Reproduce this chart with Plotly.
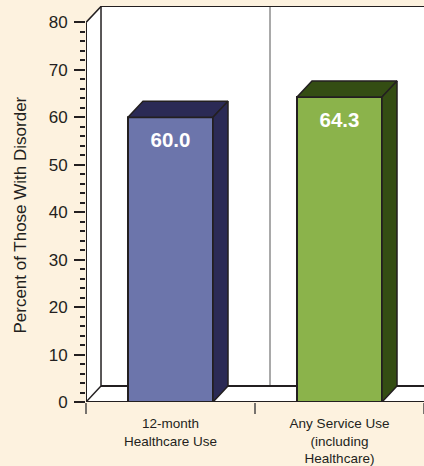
import plotly.graph_objects as go

categories = ["12-month<br>Healthcare Use", "Any Service Use<br>(including<br>Healthcare)"]
values = [60.0, 64.3]
value_labels = ["60.0", "64.3"]
front_colors = ["#6C75AB", "#8BB34B"]
dark_colors = ["#2B2A55", "#344D13"]
y_title = "Percent of Those With Disorder"

BG = "#FDF2DF"
INK = "#231F20"
DX, DY = 0.0888, 3.37      # 3-D depth in axis units
W = 0.503                  # bar width
TOP = 83.47                # axis top
XMAX = 2
pos = [i + 0.5 for i in range(len(values))]

fig = go.Figure()

# bars
fig.add_trace(go.Bar(
    x=pos, y=values, width=W,
    marker=dict(color=front_colors, line=dict(color=INK, width=2)),
    hoverinfo="skip", showlegend=False,
))

# top and side faces
for p, v, c in zip(pos, values, dark_colors):
    l, r = p - W / 2, p + W / 2
    fig.add_trace(go.Scatter(
        x=[l, l + DX, r + DX, r, l], y=[v, v + DY, v + DY, v, v],
        mode="lines", fill="toself", fillcolor=c,
        line=dict(color=INK, width=1.5), hoverinfo="skip", showlegend=False, cliponaxis=False,
    ))
    fig.add_trace(go.Scatter(
        x=[r, r + DX, r + DX, r, r], y=[v, v + DY, DY, 0, v],
        mode="lines", fill="toself", fillcolor=c,
        line=dict(color=INK, width=1.5), hoverinfo="skip", showlegend=False, cliponaxis=False,
    ))

# value labels
fig.add_trace(go.Scatter(
    x=pos, y=[v - 5.2 for v in values], text=value_labels, mode="text",
    textfont=dict(family="Liberation Sans", size=20.5, color="white", weight="bold"),
    hoverinfo="skip", showlegend=False,
))

# y axis line
fig.add_trace(go.Scatter(
    x=[0, 0], y=[0, 80], mode="lines", line=dict(color=INK, width=2),
    hoverinfo="skip", showlegend=False, cliponaxis=False,
))

wall = dict(layer="below", xref="x", yref="y")
shapes = [
    dict(type="path", path=f"M {DX},{DY} H {XMAX} V {TOP} H {DX} Z", fillcolor="white", line=dict(width=0), **wall),
    dict(type="path", path=f"M 0,0 L {DX},{DY} V {TOP} L 0,80 Z", fillcolor="white", line=dict(width=0), **wall),
    dict(type="path", path=f"M 0,0 H {XMAX} V {DY} H {DX} Z", fillcolor="white", line=dict(width=0), **wall),
    dict(type="line", x0=1 + DX, x1=1 + DX, y0=DY, y1=TOP, line=dict(color="#555555", width=1), **wall),
    dict(type="line", x0=DX, x1=XMAX, y0=DY, y1=DY, line=dict(color=INK, width=2), **wall),
    dict(type="line", x0=DX, x1=XMAX, y0=TOP, y1=TOP, line=dict(color=INK, width=2), **wall),
    dict(type="line", x0=DX, x1=DX, y0=DY, y1=TOP, line=dict(color=INK, width=1.5), **wall),
    dict(type="line", x0=0, x1=DX, y0=0, y1=DY, line=dict(color=INK, width=1.5), **wall),
    dict(type="line", x0=0, x1=DX, y0=80, y1=83.37, line=dict(color=INK, width=1.5), **wall),
    dict(type="line", x0=0, x1=XMAX, y0=0, y1=0, line=dict(color=INK, width=2), **wall),
]

fig.update_layout(
    width=424, height=466,
    margin=dict(l=86, r=0, t=6, b=64, autoexpand=False),
    paper_bgcolor=BG, plot_bgcolor=BG,
    font=dict(family="Liberation Sans", color=INK),
    showlegend=False, shapes=shapes,
    annotations=[dict(
        text=y_title, textangle=-90, showarrow=False,
        xref="paper", yref="paper", x=-0.195, y=0.471, xanchor="center", yanchor="middle",
        font=dict(size=17, color=INK),
    )],
    xaxis=dict(
        range=[0, XMAX], tickmode="array", tickvals=pos, ticktext=categories,
        ticks="outside", ticklen=9, tickcolor="rgba(0,0,0,0)", tickangle=0,
        tickfont=dict(size=13.5, color=INK), showgrid=False, zeroline=False, showline=False,
        minor=dict(tickmode="array", tickvals=[0, 1, 2], ticks="outside", ticklen=11,
                   tickcolor="#77736E", tickwidth=1.5, showgrid=False),
    ),
    yaxis=dict(
        range=[0, TOP], tickmode="array", tickvals=list(range(0, 81, 10)),
        ticks="outside", ticklen=11, tickcolor=INK, tickwidth=1.5, ticklabelstandoff=3,
        tickfont=dict(size=17, color=INK), showgrid=False, zeroline=False, showline=False,
        minor=dict(tickmode="array", tickvals=[v for v in range(0, 81, 2) if v % 10],
                   ticks="outside", ticklen=5, tickcolor=INK, tickwidth=1.5, showgrid=False),
    ),
)

fig.write_html("out.html", config={"displayModeBar": False},
               post_script="document.body.style.margin='0';document.body.style.background='#FDF2DF';")
